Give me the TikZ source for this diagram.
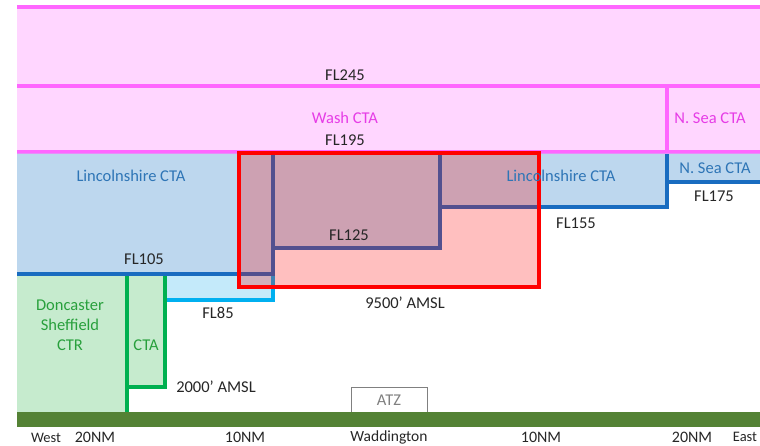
\documentclass[tikz,border=0pt]{standalone}
\usepackage{fontspec}
\setmainfont{Carlito}
\definecolor{pinkfill}{RGB}{255,214,255}
\definecolor{pinkline}{RGB}{255,102,255}
\definecolor{magtext}{RGB}{230,60,230}
\definecolor{bluefill}{RGB}{189,215,238}
\definecolor{blueline}{RGB}{25,108,192}
\definecolor{bluetext}{RGB}{46,117,182}
\definecolor{cyanfill}{RGB}{196,234,250}
\definecolor{cyanline}{RGB}{0,176,240}
\definecolor{greenfill}{RGB}{198,235,206}
\definecolor{greenline}{RGB}{0,176,80}
\definecolor{greentext}{RGB}{40,160,60}
\definecolor{ground}{RGB}{84,130,53}
\definecolor{atzline}{RGB}{128,128,128}
\tikzset{
  lbl/.style={font=\fontsize{16.5}{19}\selectfont, inner sep=0pt, text=black!85},
  axislbl/.style={font=\fontsize{16}{18}\selectfont, inner sep=0pt, text=black!85},
  pinkl/.style={draw=pinkline, line width=3.5pt},
  bluel/.style={draw=blueline, line width=3.5pt},
  greenl/.style={draw=greenline, line width=3.5pt},
  cyanl/.style={draw=cyanline, line width=3.5pt},
}
\begin{document}
\begin{tikzpicture}[x=1pt,y=-1pt]
\useasboundingbox (0,0) rectangle (760,446);
% pink upper airspace
\fill[pinkfill] (17,7) rectangle (760,152);
\draw[pinkl] (17,7) -- (760,7);
\draw[pinkl] (17,86) -- (760,86);
\draw[pinkl] (667,86) -- (667,152);
\draw[pinkl] (17,152) -- (760,152);
% Lincolnshire CTA
\fill[bluefill] (17,153.7) -- (760,153.7) -- (760,182) -- (667,182) -- (667,207) -- (440,207) -- (440,248) -- (273,248) -- (273,274) -- (17,274) -- cycle;
% FL85 cyan
\fill[cyanfill] (165,274) rectangle (273,300);
\draw[cyanl] (165,300) -- (273,300) -- (273,274);
% green
\fill[greenfill] (17,274) rectangle (127,412);
\fill[greenfill] (127,274) rectangle (165,387);
\draw[greenl] (127,274) -- (127,412);
\draw[greenl] (165,274) -- (165,387) -- (127,387);
% blue boundaries
\draw[bluel] (17,274) -- (273,274) -- (273,153.7);
\draw[bluel] (273,248) -- (440,248) -- (440,153.7);
\draw[bluel] (440,207) -- (667,207) -- (667,153.7);
\draw[bluel] (667,182) -- (760,182);
% red box
\fill[red, fill opacity=0.25] (239,153) rectangle (539,287);
\draw[red, line width=3.5pt] (239,153) rectangle (539,287);
% ATZ
\draw[atzline, line width=1pt, fill=white] (351,412) -- (351,387) -- (427,387) -- (427,412);
% ground
\fill[ground] (17,412) rectangle (760,427);
% labels
\node[lbl] (fl245) at (345,75) {FL245};
\node[lbl, text=magtext] (wash) at (345,118) {Wash CTA};
\node[lbl] (fl195) at (345,140) {FL195};
\node[lbl, text=magtext] (nsea1) at (710,118) {N. Sea CTA};
\node[lbl, text=bluetext] (linc1) at (131,176) {Lincolnshire CTA};
\node[lbl, text=bluetext] (linc2) at (561,176) {Lincolnshire CTA};
\node[lbl, text=bluetext] (nsea2) at (715,168) {N. Sea CTA};
\node[lbl] (fl175) at (714,196) {FL175};
\node[lbl] (fl155) at (576,223) {FL155};
\node[lbl] (fl125) at (349,235) {FL125};
\node[lbl] (fl105) at (144,259) {FL105};
\node[lbl] (fl85) at (218,313) {FL85};
\node[lbl] (amsl95) at (405,303) {9500’ AMSL};
\node[lbl, text=greentext, align=center, font=\fontsize{16.5}{20}\selectfont] (ctr) at (70,325) {Doncaster\\Sheffield\\CTR};
\node[lbl, text=greentext] (cta) at (146,345) {CTA};
\node[lbl] (amsl2) at (216,387) {2000’ AMSL};
\node[lbl, text=atzline] (atz) at (389,400) {ATZ};
\node[axislbl, font=\fontsize{14.5}{17}\selectfont] (west) at (46,438) {West};
\node[axislbl] (w20) at (95,437) {20NM};
\node[axislbl] (w10) at (245,437) {10NM};
\node[axislbl, font=\fontsize{15.5}{18}\selectfont] (wadd) at (389,437) {Waddington};
\node[axislbl] (e10) at (541,437) {10NM};
\node[axislbl] (e20) at (692,437) {20NM};
\node[axislbl, font=\fontsize{14.5}{17}\selectfont] (east) at (745,437) {East};
\end{tikzpicture}
\end{document}
